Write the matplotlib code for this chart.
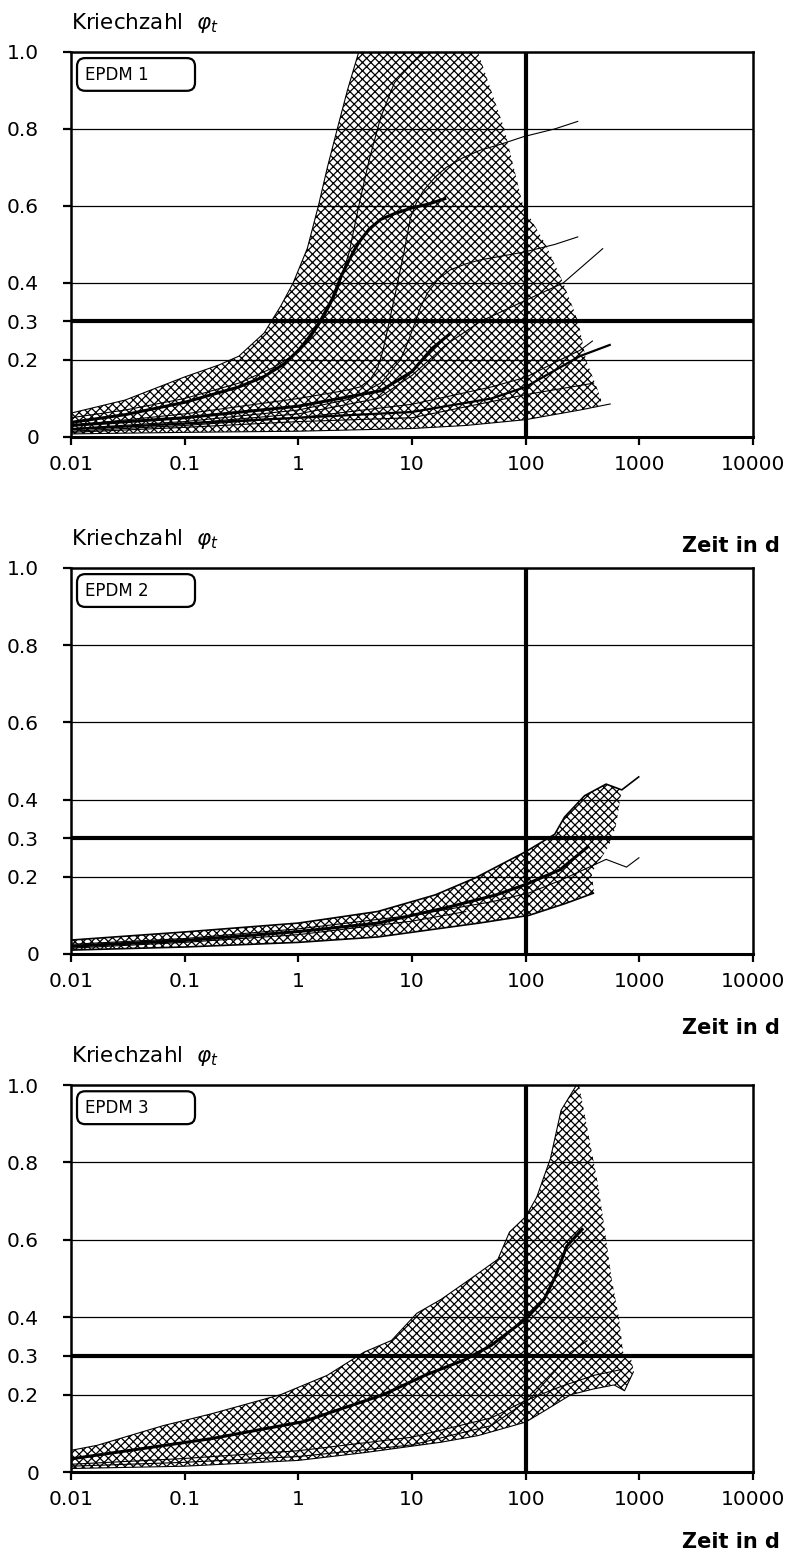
import numpy as np
import matplotlib.pyplot as plt
from matplotlib.patches import FancyBboxPatch

plt.rcParams['hatch.linewidth'] = 0.9
plt.rcParams['hatch.color'] = 'black'

x_ticks = [0.01, 0.1, 1, 10, 100, 1000, 10000]
x_labels = ['0.01', '0.1', '1', '10', '100', '1000', '10000']
y_ticks = [0, 0.2, 0.3, 0.4, 0.6, 0.8, 1.0]
y_labels = ['0', '0.2', '0.3', '0.4', '0.6', '0.8', '1.0']

# ---- EPDM 1 ----
env1_t = [0.01, 0.03, 0.1, 0.2, 0.3, 0.5, 0.7, 0.9, 1.2, 1.5, 1.8, 2.2, 2.7, 3.4, 38, 65, 95,
          150, 214, 290, 340, 460, 460, 300, 100, 30, 10, 1, 0.1, 0.01]
env1_phi = [0.062, 0.096, 0.156, 0.187, 0.21, 0.27, 0.34, 0.40, 0.49, 0.6, 0.7, 0.8, 0.9, 1.0,
            1.0, 0.8, 0.6, 0.5, 0.4, 0.3, 0.2, 0.1, 0.082, 0.07, 0.045, 0.03, 0.022, 0.015,
            0.012, 0.008]
e1_top_t = [0.01, 0.03, 0.1, 0.2, 0.3, 0.5, 0.7, 0.9, 1.2, 1.5, 1.8, 2.2, 2.7, 3.4]
e1_top_phi = [0.062, 0.096, 0.156, 0.187, 0.21, 0.27, 0.34, 0.40, 0.49, 0.6, 0.7, 0.8, 0.9, 1.0]
e1_a_t = [0.01, 0.03, 0.1, 0.3, 0.6, 1.0, 1.3, 1.6, 1.9, 2.2, 2.8, 3.4, 4.2, 5.3, 7, 10, 13]
e1_a_phi = [0.05, 0.07, 0.1, 0.14, 0.18, 0.22, 0.26, 0.3, 0.34, 0.38, 0.48, 0.6, 0.72, 0.83,
            0.92, 0.97, 1.0]
e1_b_t = [0.01, 0.03, 0.1, 0.3, 0.5, 0.75, 1.0, 1.25, 1.55, 2.0, 2.4, 2.7, 3.1, 3.5, 4.2,
          5.3, 7, 10, 14, 20]
e1_b_phi = [0.038, 0.058, 0.09, 0.13, 0.157, 0.19, 0.225, 0.26, 0.30, 0.36, 0.42, 0.45, 0.485,
            0.51, 0.54, 0.565, 0.58, 0.595, 0.605, 0.62]
e1_c_t = [0.01, 0.1, 1, 2.5, 3.5, 4.3, 5.0, 5.5, 6.0, 7.1, 8.5, 9.7, 11, 12.6, 16, 20, 28,
          40, 60, 96, 180, 290]
e1_c_phi = [0.03, 0.06, 0.1, 0.12, 0.13, 0.15, 0.18, 0.22, 0.27, 0.37, 0.48, 0.57, 0.61,
            0.64, 0.675, 0.70, 0.725, 0.745, 0.76, 0.78, 0.80, 0.82]
e1_d_t = [0.01, 0.1, 1, 3, 5.3, 7.9, 9.3, 10.7, 12, 13.7, 17, 21.7, 30, 40, 96, 180, 290]
e1_d_phi = [0.022, 0.04, 0.07, 0.1, 0.14, 0.2, 0.25, 0.3, 0.34, 0.374, 0.41, 0.434, 0.45,
            0.46, 0.48, 0.50, 0.52]
e1_e_t = [0.01, 0.1, 1, 5, 10, 20, 40, 100, 214, 480]
e1_e_phi = [0.02, 0.035, 0.06, 0.1, 0.16, 0.24, 0.30, 0.355, 0.40, 0.49]
e1_f_t = [0.01, 0.1, 1, 5.3, 10, 15, 22]
e1_f_phi = [0.03, 0.05, 0.08, 0.12, 0.17, 0.23, 0.27]
e1_g_t = [0.01, 0.1, 1, 10, 50, 100, 200, 300, 390]
e1_g_phi = [0.015, 0.03, 0.05, 0.085, 0.13, 0.155, 0.2, 0.225, 0.25]
e1_h_t = [0.01, 0.1, 1, 10, 50, 100, 300, 560]
e1_h_phi = [0.02, 0.035, 0.05, 0.065, 0.1, 0.13, 0.21, 0.24]
e1_i_t = [0.01, 0.1, 1, 10, 100, 400]
e1_i_phi = [0.012, 0.025, 0.04, 0.05, 0.11, 0.14]
e1_j_t = [0.01, 0.1, 1, 10, 30, 100, 300, 560]
e1_j_phi = [0.008, 0.012, 0.015, 0.022, 0.03, 0.045, 0.07, 0.086]

# ---- EPDM 2 ----
env2_t = [0.01, 0.1, 1, 5, 16, 36, 100, 180, 220, 330, 510, 700, 620, 540, 380, 400, 220,
          107, 39, 5, 1, 0.1, 0.01]
env2_phi = [0.036, 0.057, 0.08, 0.11, 0.153, 0.197, 0.265, 0.31, 0.355, 0.41, 0.44, 0.425,
            0.33, 0.28, 0.21, 0.158, 0.13, 0.10, 0.08, 0.044, 0.03, 0.018, 0.01]
e2_a_t = [0.01, 0.1, 1, 5, 16, 36, 100, 180, 220, 330, 510, 700, 1000]
e2_a_phi = [0.036, 0.057, 0.08, 0.11, 0.153, 0.197, 0.265, 0.31, 0.355, 0.41, 0.44, 0.425, 0.46]
e2_b_t = [0.01, 0.1, 1, 5, 20, 55, 100, 200, 360]
e2_b_phi = [0.02, 0.035, 0.058, 0.08, 0.12, 0.153, 0.18, 0.218, 0.28]
e2_c_t = [0.01, 0.1, 1, 10, 50, 107, 200, 510, 770, 1000]
e2_c_phi = [0.025, 0.04, 0.065, 0.1, 0.135, 0.158, 0.19, 0.245, 0.225, 0.25]
e2_d_t = [0.01, 0.1, 1, 5, 39, 107, 220, 400]
e2_d_phi = [0.01, 0.018, 0.03, 0.044, 0.08, 0.10, 0.13, 0.158]
e2_e_t = [0.01, 0.1, 1, 10, 30]
e2_e_phi = [0.015, 0.03, 0.05, 0.085, 0.11]

# ---- EPDM 3 ----
env3_t = [0.01, 0.017, 0.065, 0.17, 0.7, 1.8, 3.8, 6.6, 11, 18, 33, 57, 72, 100, 125, 165,
          205, 280, 295, 435, 500, 570, 660, 720, 850, 890, 740, 600, 400, 250, 150, 100, 38,
          18, 3.8, 1, 0.1, 0.01]
env3_phi = [0.056, 0.069, 0.12, 0.15, 0.20, 0.25, 0.31, 0.34, 0.41, 0.446, 0.50, 0.55, 0.62,
            0.66, 0.71, 0.81, 0.935, 1.0, 1.0, 0.74, 0.62, 0.5, 0.4, 0.31, 0.29, 0.262, 0.21,
            0.225, 0.215, 0.2, 0.16, 0.129, 0.094, 0.077, 0.05, 0.03, 0.015, 0.009]
e3_top_t = [0.01, 0.017, 0.065, 0.17, 0.7, 1.8, 3.8, 6.6, 11, 18, 33, 57, 72, 100, 125, 165, 205, 280]
e3_top_phi = [0.056, 0.069, 0.12, 0.15, 0.20, 0.25, 0.31, 0.34, 0.41, 0.446, 0.50, 0.55, 0.62,
              0.66, 0.71, 0.81, 0.935, 1.0]
e3_a_t = [0.01, 0.17, 1.1, 5.6, 13, 29, 49, 100, 145, 183, 230, 320]
e3_a_phi = [0.034, 0.086, 0.13, 0.20, 0.25, 0.29, 0.326, 0.395, 0.446, 0.506, 0.584, 0.63]
e3_b_t = [0.01, 0.1, 1, 10, 50, 100, 200, 400, 700]
e3_b_phi = [0.02, 0.035, 0.055, 0.09, 0.14, 0.185, 0.22, 0.25, 0.265]
e3_c_t = [0.01, 0.1, 1, 10, 50, 110, 180, 250, 350]
e3_c_phi = [0.015, 0.025, 0.04, 0.07, 0.12, 0.19, 0.26, 0.31, 0.34]
e3_d_t = [0.01, 0.1, 1, 3.8, 18, 38, 100, 150, 250, 400, 600, 740, 890]
e3_d_phi = [0.009, 0.015, 0.03, 0.05, 0.077, 0.094, 0.129, 0.16, 0.2, 0.215, 0.225, 0.21, 0.26]

thin, thick = 0.8, 2.2

panels = [
    dict(name='EPDM 1', env=(env1_t, env1_phi), zeit=108,
         curves=[(e1_top_t, e1_top_phi, thin), (e1_a_t, e1_a_phi, thin),
                 (e1_b_t, e1_b_phi, thick), (e1_c_t, e1_c_phi, thin),
                 (e1_d_t, e1_d_phi, thin), (e1_e_t, e1_e_phi, thin),
                 (e1_f_t, e1_f_phi, thick), (e1_g_t, e1_g_phi, thin),
                 (e1_h_t, e1_h_phi, 1.6), (e1_i_t, e1_i_phi, thin),
                 (e1_j_t, e1_j_phi, thin)]),
    dict(name='EPDM 2', env=(env2_t, env2_phi), zeit=73,
         curves=[(e2_a_t, e2_a_phi, 1.2), (e2_b_t, e2_b_phi, thick),
                 (e2_c_t, e2_c_phi, thin), (e2_d_t, e2_d_phi, 1.2),
                 (e2_e_t, e2_e_phi, thin)]),
    dict(name='EPDM 3', env=(env3_t, env3_phi), zeit=69,
         curves=[(e3_top_t, e3_top_phi, thin), (e3_a_t, e3_a_phi, thick),
                 (e3_b_t, e3_b_phi, thin), (e3_c_t, e3_c_phi, thin),
                 (e3_d_t, e3_d_phi, thin)]),
]

rects = [[0.0899, 0.7197, 0.8633, 0.2470],
         [0.0899, 0.3881, 0.8633, 0.2476],
         [0.0899, 0.0558, 0.8633, 0.2482]]

fig = plt.figure(figsize=(7.9, 15.59), dpi=100)

for p, r in zip(panels, rects):
    ax = fig.add_axes(r)
    ax.set_xscale('log')
    ax.set_xlim(0.01, 10000)
    ax.set_ylim(0, 1)

    ax.fill(p['env'][0], p['env'][1], facecolor='white', edgecolor='black',
            hatch='xxxx', lw=0, zorder=1)

    for y in [0.2, 0.4, 0.6, 0.8]:
        ax.axhline(y, color='black', lw=0.9, zorder=2)
    ax.axhline(0.3, color='black', lw=3, zorder=4)
    ax.axvline(100, color='black', lw=3, zorder=4)

    for t, phi, lw in p['curves']:
        ax.plot(t, phi, color='black', lw=lw, zorder=3, solid_capstyle='butt',
                solid_joinstyle='round')

    ax.set_xticks(x_ticks)
    ax.set_xticklabels(x_labels)
    ax.xaxis.set_minor_locator(plt.NullLocator())
    ax.set_yticks(y_ticks)
    ax.set_yticklabels(y_labels)
    ax.tick_params(axis='both', direction='out', length=6, width=1.6, color='black',
                   labelsize=14.5)
    ax.tick_params(axis='y', pad=17)
    ax.tick_params(axis='x', pad=7)
    for s in ['left', 'top', 'right']:
        ax.spines[s].set_linewidth(1.8)
    ax.spines['bottom'].set_linewidth(2.2)

    box = FancyBboxPatch((0.0088, 0.899), 0.173, 0.085, transform=ax.transAxes,
                         boxstyle='round,pad=0,rounding_size=0.012',
                         mutation_aspect=682 / 385, facecolor='white',
                         edgecolor='black', lw=1.6, zorder=5)
    ax.add_patch(box)
    ax.text(0.02, 0.94, p['name'], transform=ax.transAxes, fontsize=12,
            va='center', ha='left', zorder=6)

    ax.annotate(r'Kriechzahl  $\varphi_t$', xy=(0, 1), xycoords='axes fraction',
                xytext=(0, 23), textcoords='offset pixels', fontsize=15.5,
                ha='left', va='baseline')
    ax.annotate('Zeit in d', xy=(1, 0), xycoords='axes fraction',
                xytext=(27, -p['zeit'] - 7), textcoords='offset pixels',
                fontsize=15, fontweight='bold', ha='right', va='baseline')

fig.savefig('out.png', dpi=100)
